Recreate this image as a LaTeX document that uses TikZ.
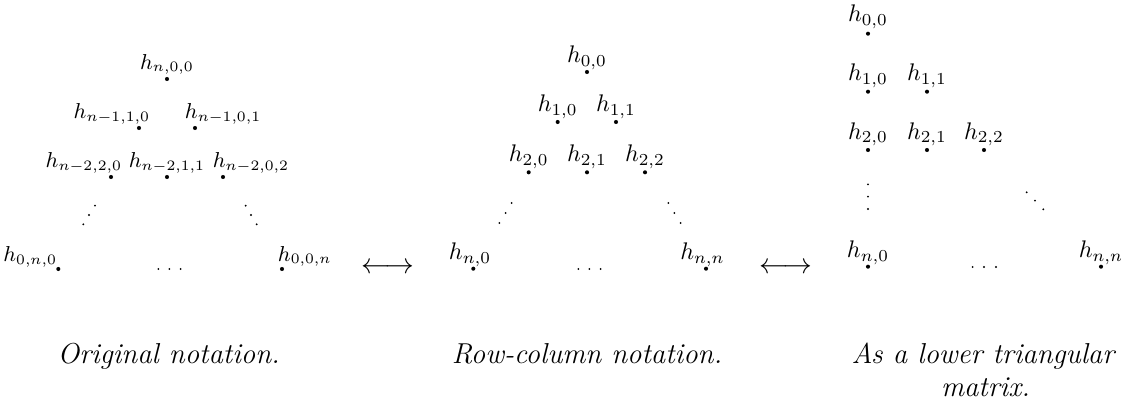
\documentclass[tikz,border=0pt]{standalone}
\begin{document}
\begin{tikzpicture}[x=0.41667pt,y=-0.41667pt,
  dot/.style={circle,fill=black,inner sep=0pt,minimum size=1.7pt},
  sdot/.style={circle,fill=black,inner sep=0pt,minimum size=0.85pt},
  lab/.style={inner sep=0pt,anchor=base},
  labL/.style={inner sep=0pt,anchor=base east},
  labR/.style={inner sep=0pt,anchor=base west},
  captxt/.style={inner sep=0pt,anchor=base,font=\large\itshape},
  arrtxt/.style={inner sep=0pt,anchor=base,font=\large}]
\useasboundingbox (0,0) rectangle (1126,407);
% ---------- left: original notation ----------
\node[dot] (a00) at (167,79) {};
\node[dot] (a10) at (139,128) {};
\node[dot] (a11) at (195,128) {};
\node[dot] (a20) at (111,177) {};
\node[dot] (a21) at (167,177) {};
\node[dot] (a22) at (223,177) {};
\node[dot] (an0) at (58.3,269) {};
\node[dot] (ann) at (282,269) {};
\node[lab,font=\small] (la00) at (167,69.3) {$h_{n,0,0}$};
\node[labL,font=\small] (la10) at (150.5,119) {$h_{n-1,1,0}$};
\node[labR,font=\small] (la11) at (184.5,119) {$h_{n-1,0,1}$};
\node[labL,font=\small] (la20) at (122.5,167.7) {$h_{n-2,2,0}$};
\node[lab,font=\small] (la21) at (167,167.7) {$h_{n-2,1,1}$};
\node[labR,font=\small] (la22) at (212.3,167.7) {$h_{n-2,0,2}$};
\node[labL,font=\small] (lan0) at (57.5,261.7) {$h_{0,n,0}$};
\node[labR,font=\small] (lann) at (277.5,261.5) {$h_{0,0,n}$};
\node[sdot] (ad1) at (95,205.7) {};
\node[sdot] (ad2) at (89,215) {};
\node[sdot] (ad3) at (83.3,224.3) {};
\node[sdot] (ae1) at (245.7,205.7) {};
\node[sdot] (ae2) at (251,215) {};
\node[sdot] (ae3) at (256.7,224.3) {};
\node[sdot] (ac1) at (158.3,269) {};
\node[sdot] (ac2) at (169.3,269) {};
\node[sdot] (ac3) at (180.7,269) {};
% ---------- middle: row-column notation ----------
\node[dot] (b00) at (587,72) {};
\node[dot] (b10) at (557.7,122) {};
\node[dot] (b11) at (616,122) {};
\node[dot] (b20) at (528.7,172.3) {};
\node[dot] (b21) at (587,172.3) {};
\node[dot] (b22) at (645,172.3) {};
\node[dot] (bn0) at (473.3,268.7) {};
\node[dot] (bnn) at (706,268.7) {};
\node[lab] (lb00) at (587,62.7) {$h_{0,0}$};
\node[lab] (lb10) at (557.7,111.5) {$h_{1,0}$};
\node[lab] (lb11) at (616,111.5) {$h_{1,1}$};
\node[lab] (lb20) at (528.7,161.7) {$h_{2,0}$};
\node[lab] (lb21) at (587,161.7) {$h_{2,1}$};
\node[lab] (lb22) at (645,161.7) {$h_{2,2}$};
\node[lab] (lbn0) at (470,260) {$h_{n,0}$};
\node[lab] (lbnn) at (702.5,260) {$h_{n,n}$};
\node[sdot] (bd1) at (511.7,203) {};
\node[sdot] (bd2) at (505.7,213) {};
\node[sdot] (bd3) at (499.3,223) {};
\node[sdot] (be1) at (668.3,203) {};
\node[sdot] (be2) at (674.3,213) {};
\node[sdot] (be3) at (680.7,223) {};
\node[sdot] (bc1) at (578.3,269) {};
\node[sdot] (bc2) at (589.3,269) {};
\node[sdot] (bc3) at (600.7,269) {};
% ---------- right: lower triangular matrix ----------
\node[dot] (c00) at (868,33.7) {};
\node[dot] (c10) at (868,91.7) {};
\node[dot] (c11) at (927,91.7) {};
\node[dot] (c20) at (868,150) {};
\node[dot] (c21) at (927,150) {};
\node[dot] (c22) at (984,150) {};
\node[dot] (cn0) at (868,266.7) {};
\node[dot] (cnn) at (1101,266.7) {};
\node[lab] (lc00) at (868,21.7) {$h_{0,0}$};
\node[lab] (lc10) at (868,81) {$h_{1,0}$};
\node[lab] (lc11) at (927,81) {$h_{1,1}$};
\node[lab] (lc20) at (868,139.3) {$h_{2,0}$};
\node[lab] (lc21) at (927,139.3) {$h_{2,1}$};
\node[lab] (lc22) at (984,139.3) {$h_{2,2}$};
\node[lab] (lcn0) at (868,257.5) {$h_{n,0}$};
\node[lab] (lcnn) at (1101,257.5) {$h_{n,n}$};
\node[sdot] (cv1) at (868,184.3) {};
\node[sdot] (cv2) at (868,196.7) {};
\node[sdot] (cv3) at (868,209) {};
\node[sdot] (cd1) at (1026.7,192.3) {};
\node[sdot] (cd2) at (1035,200.7) {};
\node[sdot] (cd3) at (1043.3,209.3) {};
\node[sdot] (cc1) at (972.7,267) {};
\node[sdot] (cc2) at (984,267) {};
\node[sdot] (cc3) at (996,267) {};
% ---------- arrows ----------
\node[arrtxt] (arr1) at (388.3,273.2) {$\longleftrightarrow$};
\node[arrtxt] (arr2) at (786.3,273.2) {$\longleftrightarrow$};
% ---------- captions ----------
\node[captxt] (capA) at (168.8,363.3) {Original notation.};
\node[captxt] (capB) at (587,363.3) {Row-column notation.};
\node[captxt] (capC1) at (983,363.3) {As a lower triangular};
\node[captxt] (capC2) at (985.5,396.7) {matrix.};
\end{tikzpicture}
\end{document}
